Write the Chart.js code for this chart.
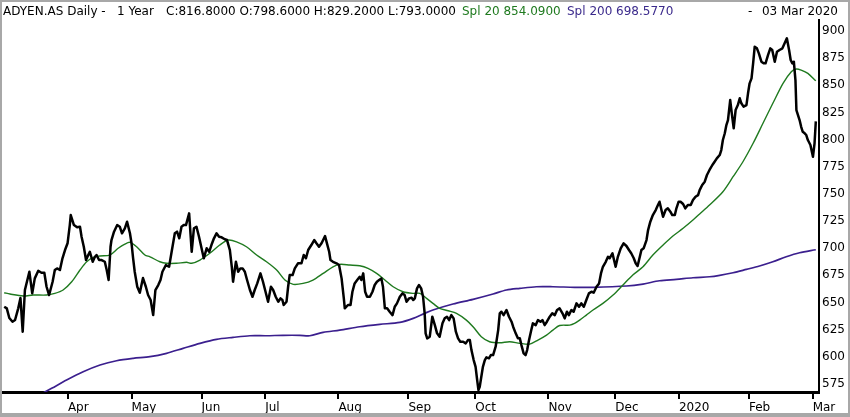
<!DOCTYPE html>
<html>
<head>
<meta charset="utf-8">
<script src="https://cdn.jsdelivr.net/npm/chart.js@4.4.1/dist/chart.umd.min.js"></script>
<style>
  html, body { margin: 0; padding: 0; background: #fff; }
  #wrap { position: relative; width: 850px; height: 417px; overflow: hidden;
          font-family: 'DejaVu Sans', sans-serif; font-size: 12px; color: #000; }
  #wrap canvas { position: absolute; left: 0; top: 0; }
  .hd { position: absolute; top: 4px; line-height: 14px; white-space: pre; }
  #frame { position: absolute; left: 0; top: 0; width: 850px; height: 417px; box-sizing: border-box;
           border: 2px solid #a8a8a8; border-bottom-width: 4px; pointer-events: none; }
</style>
</head>
<body>
<div id="wrap">
  <canvas id="chart" width="850" height="417"></canvas>
  <span class="hd" style="left:3px">ADYEN.AS Daily -</span>
  <span class="hd" style="left:117px">1 Year</span>
  <span class="hd" style="left:166px">C:816.8000 O:798.6000 H:829.2000 L:793.0000</span>
  <span class="hd" style="left:462px;color:#1f7a1f">Spl 20 854.0900</span>
  <span class="hd" style="left:567px;color:#3b2a8c">Spl 200 698.5770</span>
  <span class="hd" style="left:748px">-</span>
  <span class="hd" style="right:12px">03 Mar 2020</span>
  <div id="frame"></div>
</div>
<script>
// x positions are trading days counted from 04 Mar 2019
const monthTickDay = [20, 40, 62, 82, 105, 127, 148, 171, 192, 212, 234, 254];
const monthLabels = ['Apr', 'May', 'Jun', 'Jul', 'Aug', 'Sep', 'Oct', 'Nov', 'Dec', '2020', 'Feb', 'Mar'];
const priceTicks = [575, 600, 625, 650, 675, 700, 725, 750, 775, 800, 825, 850, 875, 900];

const closeDay = [
  0, 0.8, 1.6, 2.6, 3.4, 4.4, 5.1, 5.8, 6.5, 7.9, 8.8, 9.6, 10.7, 11.7, 12.6, 13.3, 14.1, 15.2, 15.9, 16.6,
  17.5, 18.3, 19.1, 19.9, 20.6, 20.9, 21.9, 22.9, 23.8, 24.3, 25.0, 25.7, 26.4, 26.9, 27.8, 28.5, 29.0, 29.8, 30.6, 31.6,
  32.2, 32.8, 33.4, 33.7, 34.5, 35.5, 36.3, 37.0, 37.9, 38.6, 39.5, 40.0, 40.5, 41.0, 41.8, 42.6, 43.6, 44.5, 45.2, 46.0,
  46.8, 47.5, 48.4, 49.1, 49.7, 50.8, 51.8, 52.6, 53.6, 54.3, 55.0, 55.7, 56.4, 57.1, 58.1, 58.9, 59.6, 60.4, 61.2, 62.0,
  62.7, 63.6, 64.4, 65.1, 65.9, 66.7, 67.5, 68.3, 69.3, 70.0, 70.9, 71.5, 71.9, 72.8, 73.5, 74.2, 74.9, 75.6, 76.3, 77.2,
  78.0, 78.7, 79.5, 80.5, 81.3, 82.1, 82.9, 83.8, 84.5, 85.3, 86.1, 86.8, 87.4, 87.8, 88.7, 89.2, 89.7, 90.6, 91.3, 92.3,
  93.4, 94.1, 94.8, 95.5, 96.5, 97.4, 98.1, 98.9, 99.7, 100.2, 100.8, 101.4, 102.1, 102.5, 103.3, 104.4, 105.2, 106.0, 106.7, 107.0,
  108.0, 108.8, 109.4, 110.1, 110.9, 111.7, 112.2, 112.8, 113.4, 114.0, 114.9, 115.7, 116.4, 117.1, 117.8, 118.5, 119.0, 119.6, 120.3, 121.1,
  122.0, 122.7, 123.4, 124.3, 125.1, 125.8, 126.4, 127.2, 128.0, 128.5, 129.0, 129.7, 130.3, 131.0, 131.6, 132.1, 132.4, 132.9, 133.7, 134.5,
  135.3, 136.0, 136.8, 137.7, 138.4, 139.1, 139.8, 140.5, 141.2, 141.9, 142.6, 143.3, 144.2, 145.0, 145.7, 146.3, 146.8, 147.5, 148.1, 148.6,
  149.0, 149.4, 149.9, 150.4, 151.0, 151.5, 152.3, 152.9, 153.6, 154.4, 155.2, 155.7, 156.2, 156.9, 157.8, 158.6, 159.4, 159.9, 160.7, 161.4,
  162.0, 162.5, 163.2, 163.8, 164.3, 164.9, 165.6, 166.1, 167.0, 167.7, 168.5, 169.1, 169.8, 170.5, 171.4, 172.2, 173.0, 173.7, 174.5, 175.4,
  176.1, 176.8, 177.4, 178.2, 178.9, 179.8, 180.6, 181.3, 182.1, 182.9, 183.7, 184.5, 185.2, 186.1, 186.9, 187.5, 188.1, 189.0, 189.7, 190.2,
  191.1, 191.6, 192.1, 192.8, 193.7, 194.6, 195.5, 196.3, 197.0, 197.8, 198.4, 199.0, 199.7, 200.2, 200.9, 201.8, 202.3, 203.0, 203.8, 204.7,
  205.4, 205.9, 206.5, 207.0, 207.8, 208.5, 209.3, 209.9, 210.7, 211.2, 211.9, 212.5, 213.3, 214.0, 214.8, 215.7, 216.4, 217.2, 218.0, 218.5,
  219.3, 220.1, 220.8, 221.6, 222.5, 223.2, 223.9, 224.8, 225.3, 225.8, 226.4, 226.9, 227.4, 228.1, 228.6, 229.2, 229.8, 230.5, 231.1, 231.6,
  232.3, 233.2, 233.7, 234.2, 234.8, 235.3, 235.8, 236.5, 237.1, 237.9, 238.6, 239.2, 240.0, 240.7, 241.3, 242.1, 242.8, 243.6, 244.5, 245.2,
  245.9, 246.6, 247.1, 247.6, 248.1, 248.6, 248.9, 249.4, 249.9, 250.4, 250.9, 251.5, 252.0, 252.5, 253.3, 254.1, 254.6, 255.0
];
const closePrice = [
  646.1, 644.6, 635.7, 632.3, 633.9, 644.6, 654.1, 623.1, 661.5, 678.3, 658.4, 672.2, 679.2, 677.4, 677.4, 664.5, 656.9, 669.1, 679.9, 681.4,
  679.9, 690.7, 698.3, 704.5, 721.3, 730.5, 721.3, 719.2, 719.8, 710.5, 701.3, 689.1, 693.7, 696.7, 687.5, 692.1, 693.7, 689.1, 689.1, 687.5,
  679.9, 670.7, 701.3, 707.5, 715.2, 721.3, 719.8, 713.7, 718.3, 724.4, 713.7, 704.5, 690.7, 678.3, 664.5, 659.0, 672.5, 664.5, 656.9, 652.3,
  638.4, 661.5, 666.1, 670.7, 678.3, 684.5, 682.9, 696.7, 713.7, 715.2, 709.1, 719.8, 721.3, 721.3, 732.1, 696.7, 718.3, 719.8, 710.5, 699.9,
  690.7, 699.9, 696.7, 702.9, 709.1, 713.7, 710.5, 710.0, 708.2, 707.5, 698.3, 682.9, 669.1, 687.5, 678.3, 681.4, 681.4, 678.3, 670.7, 661.5,
  655.3, 661.5, 667.6, 676.8, 669.1, 659.9, 650.7, 664.5, 661.5, 655.3, 650.7, 653.8, 652.3, 647.7, 650.7, 664.5, 675.3, 675.3, 681.4, 686.1,
  686.1, 693.7, 690.7, 698.3, 702.9, 707.5, 704.5, 701.3, 704.5, 707.5, 711.2, 704.5, 696.7, 689.1, 687.5, 686.1, 684.5, 672.2, 653.8, 644.6,
  647.7, 647.7, 659.9, 667.6, 670.7, 673.7, 670.7, 676.8, 659.9, 655.3, 655.3, 659.9, 666.1, 669.1, 670.7, 672.2, 664.5, 644.6, 644.6, 641.5,
  638.4, 646.1, 649.2, 655.3, 658.4, 656.9, 650.7, 653.8, 654.4, 652.3, 653.8, 663.0, 666.1, 663.0, 655.3, 640.0, 621.6, 617.0, 618.5, 636.9,
  629.2, 621.6, 618.5, 630.8, 635.4, 636.9, 633.8, 638.4, 635.4, 623.1, 617.0, 613.9, 613.9, 612.4, 615.4, 615.4, 606.2, 597.0, 590.8, 578.6,
  569.4, 572.4, 581.6, 590.8, 597.0, 599.5, 598.6, 601.6, 601.6, 609.3, 624.6, 640.0, 641.5, 638.4, 643.1, 636.9, 632.3, 627.7, 621.6, 617.0,
  617.0, 610.8, 603.2, 601.6, 606.2, 615.4, 624.6, 630.8, 629.2, 633.8, 632.3, 633.8, 629.2, 632.3, 636.9, 640.0, 638.4, 643.1, 644.6, 640.0,
  635.4, 641.5, 638.4, 643.1, 641.5, 649.2, 646.1, 649.2, 646.1, 652.3, 658.4, 659.9, 659.0, 664.5, 667.6, 676.8, 682.9, 687.5, 692.1, 690.7,
  695.3, 689.1, 682.9, 692.1, 699.9, 704.5, 702.0, 698.3, 695.3, 690.7, 686.1, 683.6, 692.1, 698.3, 699.9, 707.5, 716.7, 724.4, 730.5, 735.1,
  739.7, 742.8, 735.1, 729.0, 735.1, 736.7, 733.6, 730.5, 730.5, 736.7, 742.8, 742.8, 740.7, 736.7, 739.7, 739.7, 744.3, 747.4, 748.9, 753.5,
  758.2, 761.2, 767.4, 772.0, 776.6, 779.6, 782.7, 785.8, 790.4, 799.6, 805.8, 813.4, 818.0, 836.4, 824.2, 810.4, 827.2, 831.8, 838.0, 833.4,
  830.3, 831.8, 842.6, 851.8, 856.4, 870.2, 885.5, 884.0, 879.4, 871.7, 870.2, 870.2, 877.9, 884.0, 882.5, 871.7, 880.9, 882.5, 884.0, 888.6,
  893.2, 882.5, 873.3, 870.2, 871.7, 854.8, 827.2, 822.6, 818.0, 811.8, 807.2, 805.8, 804.2, 799.6, 795.0, 784.2, 796.6, 816.8
];

const sma20Day = [
  0, 1.8, 6.0, 9.1, 13.3, 15.9, 18.5, 21.2, 23.8, 25.9, 28.0, 30.1, 33.2, 35.8, 37.9, 39.5, 41.6, 44.2, 45.8, 48.9,
  51.0, 54.1, 57.3, 58.9, 61.5, 64.6, 67.7, 70.4, 73.0, 76.1, 79.3, 82.4, 85.6, 88.2, 90.8, 93.9, 97.0, 100.2, 103.3, 105.4,
  108.6, 111.7, 114.3, 117.0, 119.6, 122.2, 125.3, 128.5, 130.6, 132.7, 134.7, 136.8, 139.5, 142.1, 145.2, 147.3, 149.9, 152.5, 155.7, 158.8,
  162.0, 165.1, 167.7, 170.4, 172.4, 174.5, 177.7, 179.2, 180.8, 182.9, 185.0, 188.1, 191.3, 194.4, 197.5, 200.7, 203.8, 207.0, 210.1, 213.3,
  216.4, 218.5, 221.6, 225.8, 229.0, 232.1, 235.3, 238.4, 241.5, 244.7, 247.3, 248.9, 250.4, 252.5, 255.0
];
const sma20Price = [
  659.0, 657.8, 656.0, 656.9, 656.9, 658.4, 661.5, 669.1, 679.9, 687.5, 691.6, 692.8, 693.7, 699.9, 703.8, 705.4, 701.3, 693.7, 692.1, 687.5,
  686.1, 686.1, 687.0, 686.1, 689.1, 695.3, 702.9, 707.5, 705.9, 701.3, 693.7, 687.5, 679.9, 670.7, 666.7, 667.6, 670.7, 676.8, 682.9, 685.1,
  684.5, 683.8, 681.4, 676.8, 670.7, 664.5, 659.9, 658.4, 658.4, 653.8, 649.2, 644.6, 642.4, 640.0, 633.8, 627.7, 618.5, 613.9, 612.9, 613.9,
  612.4, 611.7, 615.4, 620.0, 624.6, 628.8, 629.2, 630.8, 633.8, 638.4, 643.1, 649.2, 656.9, 666.1, 675.3, 682.9, 693.7, 702.9, 711.2, 718.3,
  725.9, 731.5, 739.7, 752.0, 765.8, 779.6, 796.6, 815.0, 833.4, 851.8, 862.5, 865.0, 864.0, 861.0, 854.1
];

const sma200Day = [
  8.1, 14.9, 19.6, 24.8, 30.1, 35.3, 40.5, 45.8, 51.0, 56.2, 61.5, 66.7, 71.9, 77.2, 82.4, 87.6, 92.9, 96.0, 100.2, 105.4,
  111.7, 118.0, 124.3, 128.5, 132.1, 134.7, 141.0, 147.3, 153.6, 157.8, 162.0, 167.2, 172.4, 179.2, 185.0, 195.5, 200.7, 205.9, 211.2, 216.4,
  221.6, 224.8, 229.0, 233.2, 237.3, 241.5, 245.7, 249.9, 255.0
];
const sma200Price = [
  560.2, 571.0, 578.6, 586.2, 592.4, 596.4, 598.6, 600.1, 603.2, 607.8, 612.4, 616.1, 617.9, 619.4, 619.4, 619.8, 619.8, 619.4, 622.5, 624.6,
  627.7, 629.9, 631.7, 635.4, 640.0, 643.1, 648.6, 652.9, 657.8, 661.5, 663.0, 664.5, 664.5, 664.0, 664.0, 665.2, 667.0, 670.0, 671.3, 672.8,
  673.7, 675.0, 677.4, 680.5, 683.6, 687.5, 692.1, 695.8, 698.6
];

const axisFont = { family: "'DejaVu Sans', sans-serif", size: 12 };

function toPoints(days, prices) {
  return days.map((d, i) => ({ x: d, y: prices[i] }));
}

new Chart(document.getElementById('chart'), {
  type: 'line',
  data: {
    datasets: [
      {
        label: 'ADYEN.AS',
        data: toPoints(closeDay, closePrice),
        borderColor: '#000000',
        borderWidth: 2.5,
        borderJoinStyle: 'round',
        pointRadius: 0,
        tension: 0
      },
      {
        label: 'Spl 20',
        data: toPoints(sma20Day, sma20Price),
        borderColor: '#1f7a1f',
        borderWidth: 1.4,
        pointRadius: 0,
        tension: 0.3
      },
      {
        label: 'Spl 200',
        data: toPoints(sma200Day, sma200Price),
        borderColor: '#3b1f8e',
        borderWidth: 1.7,
        pointRadius: 0,
        tension: 0.3
      }
    ]
  },
  options: {
    responsive: false,
    animation: false,
    devicePixelRatio: 1,
    layout: { padding: { left: 2, top: 20, right: 0, bottom: 0 } },
    plugins: { legend: { display: false }, tooltip: { enabled: false } },
    scales: {
      x: {
        type: 'linear',
        min: -0.7,
        max: 256,
        afterBuildTicks: (scale) => { scale.ticks = monthTickDay.map(v => ({ value: v })); },
        afterFit: (scale) => { scale.height = 25; },
        grid: { display: true, drawOnChartArea: false, drawTicks: true, tickLength: 7, color: '#000', lineWidth: 2 },
        border: { display: true, color: '#000', width: 3 },
        ticks: {
          align: 'start',
          padding: 2,
          color: '#000',
          font: axisFont,
          autoSkip: false,
          maxRotation: 0,
          callback: (value) => monthLabels[monthTickDay.indexOf(value)]
        }
      },
      y: {
        position: 'right',
        min: 567.6,
        max: 910.1,
        afterBuildTicks: (scale) => { scale.ticks = priceTicks.map(v => ({ value: v })); },
        afterFit: (scale) => { scale.width = 31; },
        grid: { display: false, drawTicks: false },
        border: { display: true, color: '#000', width: 2 },
        ticks: { padding: 3, color: '#000', font: axisFont, callback: (value) => value }
      }
    }
  }
});
</script>
</body>
</html>
